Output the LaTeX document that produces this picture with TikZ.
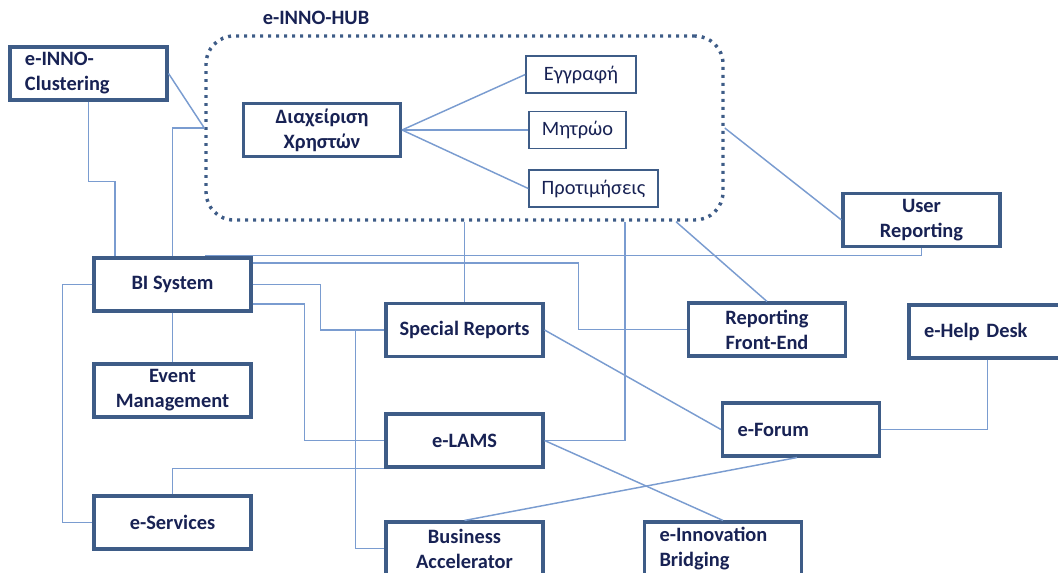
\documentclass[tikz,border=0pt]{standalone}
\usepackage{fontspec}
\setmainfont{Carlito}
\definecolor{boxblue}{RGB}{62,92,135}
\definecolor{textnavy}{RGB}{24,34,84}
\definecolor{linkblue}{RGB}{122,156,208}
\tikzset{
  modbox/.style={draw=boxblue, line width=2.3pt, fill=white, text=textnavy,
    font=\fontsize{15.3}{18.8}\selectfont\bfseries, align=center,
    minimum width=117.75pt, minimum height=39.75pt, inner sep=2pt},
  leftbox/.style={modbox, align=left, text width=95.25pt, inner xsep=11.25pt},
  subbox/.style={draw=boxblue, line width=1.1pt, fill=white, text=textnavy,
    font=\fontsize{15.3}{18.8}\selectfont, minimum height=27.75pt, inner sep=0pt},
  link/.style={draw=linkblue, line width=1.1pt},
  hubframe/.style={draw=boxblue, line width=2.6pt, dash pattern=on 2.2pt off 3.8pt,
    rounded corners=21pt, minimum width=387.75pt, minimum height=138pt}
}
\begin{document}
\begin{tikzpicture}[x=0.75pt, y=-0.75pt]
% Set the page size (one unit is one pixel of the sketch)
\def\px{0.75pt}
\clip (0,0) rectangle (1058,573);

% The hub and its user management
\node[hubframe] (hub) at (464.5,128) {};
\node[text=textnavy, font=\fontsize{15.3}{18.8}\selectfont\bfseries] (hubtitle) at (316,18) {e-INNO-HUB};
\node[modbox] (users) at (322,130) {Διαχείριση\\Χρηστών};
\node[subbox, minimum width=82.5pt] (signup) at (581,74.5) {Εγγραφή};
\node[subbox, minimum width=72.75pt] (registry) at (577.5,130) {Μητρώο};
\node[subbox, minimum width=96.75pt] (prefs) at (593.5,188.5) {Προτιμήσεις};

% The modules round the hub
\node[leftbox] (clus) at (88.5,73.5) {e-INNO-\\Clustering};
\node[modbox] (userrep) at (921.5,220) {User\\Reporting};
\node[modbox] (bi) at (172.5,284.5) {BI System};
\node[modbox] (special) at (464.5,330) {Special Reports};
\node[modbox] (frontend) at (767,329.5) {Reporting\\Front-End};
\node[leftbox] (helpdesk) at (987.5,331.5) {e-Help Desk};
\node[modbox] (event) at (172.5,390.5) {Event\\Management};
\node[modbox] (lams) at (464.5,440.5) {e-LAMS};
\node[leftbox] (forum) at (801,429.5) {e-Forum};
\node[modbox] (eserv) at (172.5,522.5) {e-Services};
\node[modbox] (busacc) at (464.5,548.5) {Business\\Accelerator};
\node[leftbox] (bridging) at (723,548.5) {e-Innovation\\Bridging};

% Links inside the hub
\draw[link] (users.east) -- (signup.west);
\draw[link] (users.east) -- (registry.west);
\draw[link] (users.east) -- (prefs.west);

% Links between the modules
\draw[link] (clus.east) -- (hub.west);
\draw[link] (clus.south) -- ++(0,80) -| ([xshift=-57.5*\px]bi.north);
\draw[link] (bi.north) |- (hub.west);
\draw[link] (hub.east) -- (userrep.west);
\draw[link] (userrep.south) |- ([xshift=32.5*\px, yshift=0.8pt]bi.north);
\draw[link] ([yshift=21.5*\px]bi.east) -- ++(326,0) |- (frontend.west);
\draw[link] (bi.east) -- ++(68,0) |- (special.west);
\draw[link] ([yshift=-19.5*\px]bi.east) -- ++(52,0) |- (lams.west);
\draw[link] (bi.west) -- ++(-30,0) |- (eserv.west);
\draw[link] (bi.south) -- (event.north);
\draw[link] (eserv.north) |- (lams.south west);
\draw[link] (special.north) -- (special.north |- hub.south);
\draw[link] (lams.east) -| ([xshift=160.5*\px]hub.south);
\draw[link] ([xshift=211.5*\px]hub.south) -- (frontend.north);
\draw[link] (special.east) -- (forum.west);
\draw[link] (helpdesk.south) |- (forum.east);
\draw[link] ([xshift=-4*\px]forum.south) -- (busacc.north);
\draw[link] (lams.east) -- (bridging.north);
\draw[link] (special.west) -- ++(-29,0) |- (busacc.west);
\end{tikzpicture}
\end{document}
